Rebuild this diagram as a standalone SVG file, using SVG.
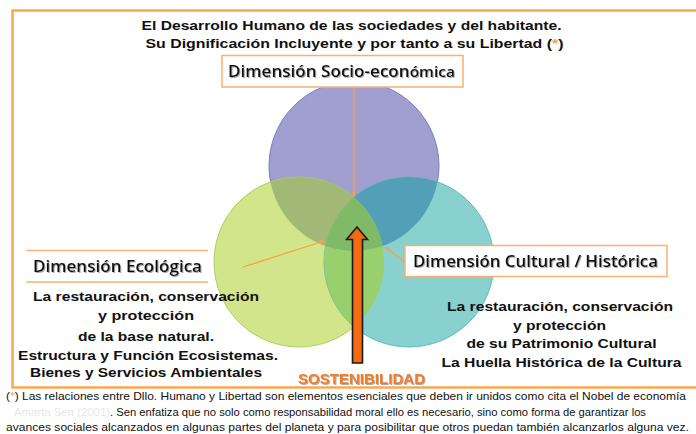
<svg xmlns="http://www.w3.org/2000/svg" width="696" height="434" viewBox="0 0 696 434">
<style>
.t{font-family:"Liberation Sans",Arial,sans-serif;font-weight:bold;fill:#111}
.lbl{font-family:"Open Sans","Liberation Sans",Arial,sans-serif;font-weight:600;font-size:16.5px;fill:#111}
.body{font-family:"Liberation Sans",Arial,sans-serif;font-weight:bold;font-size:12.5px;fill:#111;text-anchor:middle}
.fn{font-family:"Liberation Sans",Arial,sans-serif;font-size:10.5px;fill:#111}
.box{fill:#fff;stroke:#F8B070;stroke-width:1.5}
.conn{stroke:#F7A04F;stroke-width:1.3;fill:none;marker-end:url(#ah)}
</style>
<defs>
<marker id="ah" viewBox="0 0 10 10" refX="9" refY="5" markerWidth="5" markerHeight="5" orient="auto" markerUnits="userSpaceOnUse">
<path d="M0,0 L10,5 L0,10 Z" fill="#F7A04F"/>
</marker>
<clipPath id="clipP"><circle cx="354" cy="166" r="85"/></clipPath>
<clipPath id="clipG"><circle cx="299" cy="262" r="85"/></clipPath>
<filter id="sh" x="-10%" y="-30%" width="120%" height="160%"><feDropShadow dx="1" dy="1" stdDeviation="0.6" flood-color="#888" flood-opacity="0.7"/></filter>
</defs>
<rect x="12.5" y="10.5" width="700" height="377" fill="none" stroke="#FAA652" stroke-width="2.5"/>

<g id="title">
<text class="t" x="141.5" y="29.5" font-size="12.5" textLength="420" lengthAdjust="spacingAndGlyphs">El Desarrollo Humano de las sociedades y del habitante.</text>
<text class="t" x="145.5" y="48" font-size="12.5" textLength="418" lengthAdjust="spacingAndGlyphs">Su Dignificación  Incluyente  y por  tanto a su Libertad (<tspan fill="#F7A04F">*</tspan>)</text>
</g>

<g id="circles">
<circle cx="354" cy="166" r="85" fill="#A09FCF" stroke="#7B7BC4" stroke-width="1"/>
<circle cx="299" cy="262" r="85" fill="#D3E58B" stroke="#A9D25A" stroke-width="1"/>
<circle cx="409" cy="262" r="85" fill="#88D1CF" stroke="#5BBDBD" stroke-width="1"/>
<circle cx="299" cy="262" r="85" fill="#A2B877" clip-path="url(#clipP)"/>
<circle cx="409" cy="262" r="85" fill="#539FB8" clip-path="url(#clipP)"/>
<circle cx="409" cy="262" r="85" fill="#97D06D" clip-path="url(#clipG)"/>
<g clip-path="url(#clipP)"><circle cx="409" cy="262" r="85" fill="#80BA66" clip-path="url(#clipG)"/></g>
</g>

<g id="connectors">
<line class="conn" x1="354" y1="87" x2="354" y2="196"/>
<line class="conn" x1="243" y1="267" x2="324" y2="241"/>
<line class="conn" x1="405" y1="262" x2="385" y2="247"/>
</g>

<g id="socio">
<rect class="box" x="222" y="55.5" width="241" height="31.5"/>
<text class="lbl" x="228" y="77" textLength="227" lengthAdjust="spacingAndGlyphs" filter="url(#sh)">Dimensión Socio-econ<tspan font-size="15">ómica</tspan></text>
</g>

<g id="ecologica">
<line x1="26" y1="250.5" x2="208" y2="250.5" stroke="#F8B070" stroke-width="1.5"/>
<line x1="26" y1="282" x2="208" y2="282" stroke="#F8B070" stroke-width="1.5"/>
<text class="lbl" x="33" y="272" textLength="169" lengthAdjust="spacingAndGlyphs" filter="url(#sh)">Dimensión Ecológica</text>
<text class="body" x="146" y="300.5" textLength="226" lengthAdjust="spacingAndGlyphs">La restauración, conservación</text>
<text class="body" x="146" y="320" textLength="96" lengthAdjust="spacingAndGlyphs">y protección</text>
<text class="body" x="146" y="340.5" textLength="136" lengthAdjust="spacingAndGlyphs">de la base natural.</text>
<text class="body" x="148" y="359.5" textLength="260" lengthAdjust="spacingAndGlyphs">Estructura y Función Ecosistemas.</text>
<text class="body" x="146" y="377" textLength="232" lengthAdjust="spacingAndGlyphs">Bienes y Servicios Ambientales</text>
</g>

<g id="cultural">
<rect class="box" x="405" y="245.5" width="262" height="31"/>
<text class="lbl" x="413" y="267" textLength="245" lengthAdjust="spacingAndGlyphs" filter="url(#sh)">Dimensión Cultural / Histórica</text>
<text class="body" x="560" y="311" textLength="226" lengthAdjust="spacingAndGlyphs">La restauración, conservación</text>
<text class="body" x="559.5" y="330" textLength="93" lengthAdjust="spacingAndGlyphs">y protección</text>
<text class="body" x="561.5" y="348" textLength="190" lengthAdjust="spacingAndGlyphs">de su Patrimonio Cultural</text>
<text class="body" x="561.5" y="367" textLength="240" lengthAdjust="spacingAndGlyphs">La Huella Histórica de la Cultura</text>
</g>

<g id="sostenibilidad">
<path d="M357,227 L367.5,239.5 L362.5,239.5 L362.5,363 L352.5,363 L352.5,239.5 L346.5,239.5 Z" fill="#F46A10" stroke="#1a1a1a" stroke-width="1.6" stroke-linejoin="miter"/>
<text class="t" x="298" y="383.5" font-size="14" style="fill:#F47B20" textLength="127" lengthAdjust="spacingAndGlyphs" filter="url(#sh)">SOSTENIBILIDAD</text>
</g>

<g id="footnote">
<text class="fn" x="6" y="399.5" textLength="680" lengthAdjust="spacingAndGlyphs">(<tspan fill="#F7A04F">*</tspan>) Las relaciones entre Dllo. Humano y Libertad son elementos esenciales que deben ir unidos como cita el  Nobel de economía</text>
<text class="fn" x="14" y="415.5" textLength="96" lengthAdjust="spacingAndGlyphs" style="fill:#E8E8E8">Amarta Sen (2001)</text>
<text class="fn" x="110" y="415.5" textLength="536" lengthAdjust="spacingAndGlyphs">. Sen enfatiza que no solo como responsabilidad  moral ello es necesario, sino como forma  de garantizar los</text>
<text class="fn" x="6" y="431" textLength="683" lengthAdjust="spacingAndGlyphs">avances sociales alcanzados  en algunas partes del planeta  y para posibilitar que otros puedan  también alcanzarlos alguna vez.</text>
</g>
</svg>
